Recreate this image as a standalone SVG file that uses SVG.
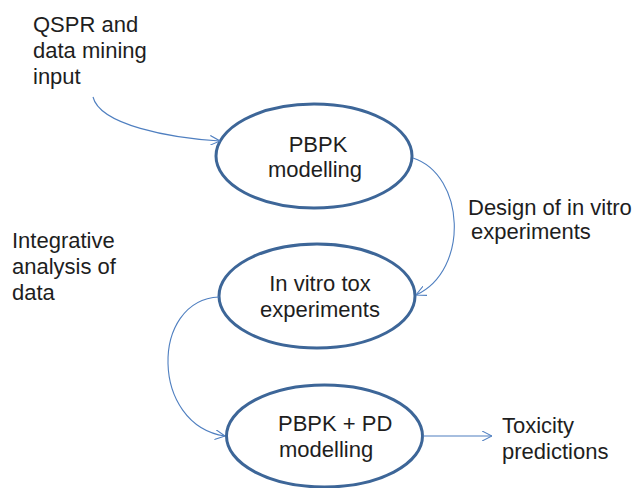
<svg xmlns="http://www.w3.org/2000/svg" width="634" height="488" viewBox="0 0 634 488">
  <style>
    .node { fill: #ffffff; stroke: #3d6698; stroke-width: 3; }
    .label { font-family: "Liberation Sans", Arial, sans-serif; font-size: 22px; fill: #1e1e1e; }
    .mid { text-anchor: middle; }
    .conn { fill: none; stroke: #4f7fc0; stroke-width: 1.1; }
  </style>
  <defs>
    <marker id="arrow" viewBox="0 0 10 10" refX="10" refY="5" markerWidth="10" markerHeight="10" markerUnits="userSpaceOnUse" orient="auto">
      <path d="M0,0 L10,5 L0,10" fill="none" stroke="#4f7fc0" stroke-width="1.1"/>
    </marker>
  </defs>
  <rect width="634" height="488" fill="#ffffff"/>

  <!-- free-standing labels -->
  <g id="qspr-input">
    <text class="label" x="33" y="32">QSPR and</text>
    <text class="label" x="33" y="58">data mining</text>
    <text class="label" x="33" y="84">input</text>
  </g>
  <g id="design-label">
    <text class="label" x="468" y="215">Design of in vitro</text>
    <text class="label" x="471" y="239">experiments</text>
  </g>
  <g id="integrative-label">
    <text class="label" x="12" y="248">Integrative</text>
    <text class="label" x="12" y="274">analysis of</text>
    <text class="label" x="12" y="300">data</text>
  </g>
  <g id="toxicity-predictions">
    <text class="label" x="502" y="433">Toxicity</text>
    <text class="label" x="502" y="459">predictions</text>
  </g>

  <!-- process nodes -->
  <g id="pbpk-modelling">
    <ellipse class="node" cx="314" cy="156" rx="98" ry="52"/>
    <text class="label mid" x="318" y="152">PBPK</text>
    <text class="label mid" x="315" y="177">modelling</text>
  </g>
  <g id="in-vitro-tox">
    <ellipse class="node" cx="317" cy="296" rx="98" ry="52"/>
    <text class="label mid" x="320" y="291">In vitro tox</text>
    <text class="label mid" x="320" y="317">experiments</text>
  </g>
  <g id="pbpk-pd-modelling">
    <ellipse class="node" cx="324.5" cy="436" rx="98" ry="51"/>
    <text class="label" x="278" y="431">PBPK + PD</text>
    <text class="label" x="279" y="457">modelling</text>
  </g>

  <!-- connectors -->
  <g id="connectors">
    <path class="conn" d="M93,97 C100,125 170,138 220,141" marker-end="url(#arrow)"/>
    <path class="conn" d="M413,158 C465,175 470,270 416,295" marker-end="url(#arrow)"/>
    <path class="conn" d="M219,297 C150,300 150,425 225,436" marker-end="url(#arrow)"/>
    <path class="conn" d="M423,436 L492,436" marker-end="url(#arrow)"/>
  </g>
</svg>
